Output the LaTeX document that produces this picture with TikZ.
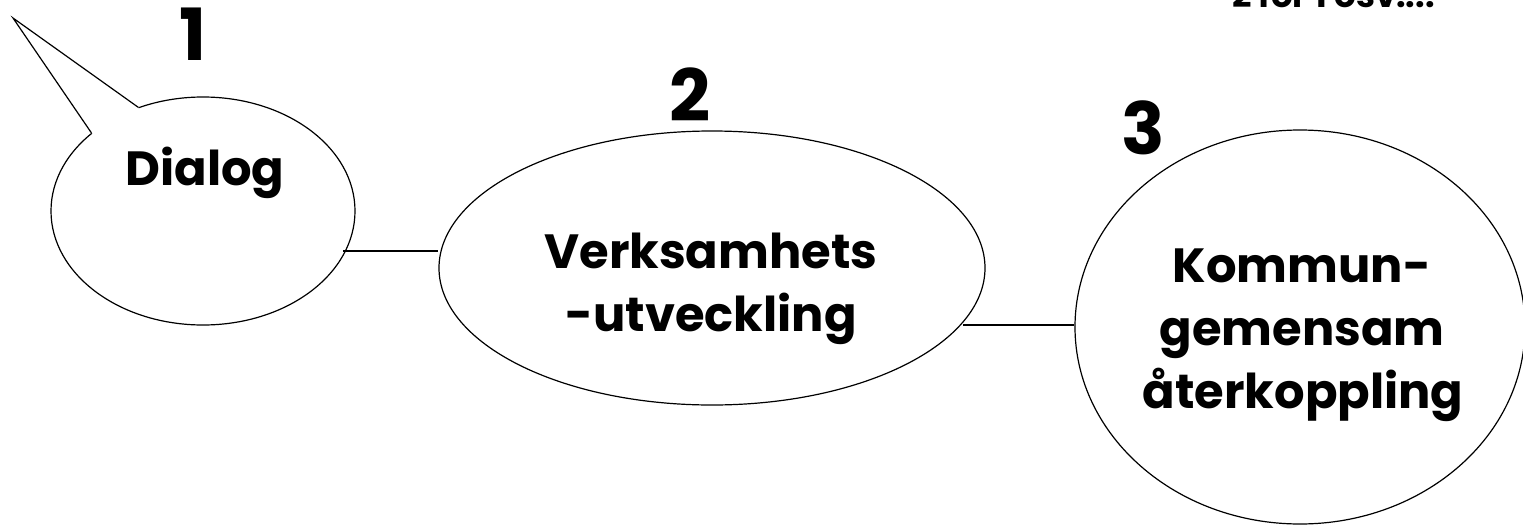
\documentclass[tikz,border=0pt]{standalone}
\usepackage{fontspec}
\setmainfont{Poppins}
\usetikzlibrary{shapes.geometric}
\tikzset{
  oval/.style={ellipse, draw, line width=1.2pt, inner sep=0pt},
  lbl/.style={font=\fontsize{48}{63}\selectfont\bfseries, align=center, inner sep=0pt},
  num/.style={font=\fontsize{72}{80}\selectfont\bfseries, inner sep=0pt},
  link/.style={line width=1.2pt}
}
\begin{document}
\begin{tikzpicture}[x=1pt,y=-1pt]
\useasboundingbox (0,0) rectangle (1523,525);
% bubble
\node[oval, minimum width=304pt, minimum height=228pt] (b1) at (203,211) {};
\coordinate (tip) at (13,18);
\fill[white] (b1.145.4) -- (tip) -- (b1.122.4) -- (175,200) -- cycle;
\draw[link, line join=miter] (b1.145.4) -- (tip) -- (b1.122.4);
\node[lbl, anchor=base] (t1) at (205,185) {Dialog};
\node[num] (n1) at (193,34) {1};
% ellipse 2
\node[oval, minimum width=546pt, minimum height=274pt] (b2) at (712,268) {};
\node[lbl, anchor=base] (t2a) at (711,268) {Verksamhets};
\node[lbl, anchor=base] (t2b) at (711,331) {-utveckling};
\node[num] (n2) at (690,95) {2};
% ellipse 3
\node[oval, minimum width=450pt, minimum height=394pt] (b3) at (1300,327) {};
\node[lbl, anchor=base] (t3a) at (1302,282) {Kommun-};
\node[lbl, anchor=base] (t3b) at (1302,345) {gemensam};
\node[lbl, anchor=base] (t3c) at (1303,408) {återkoppling};
\node[num] (n3) at (1143,128) {3};
% connectors
\coordinate (c1a) at (343,251);
\draw[link] (c1a) -- (b2.west |- c1a);
\coordinate (c2a) at (963,325);
\draw[link] (c2a) -- (b3.west |- c2a);
% top text (cut off at the top edge, as in the reference)
\node[anchor=base west, font=\fontsize{34}{40}\selectfont\bfseries, inner sep=0pt] (top) at (1232,7) {2 för 1 osv....};
\end{tikzpicture}
\end{document}
